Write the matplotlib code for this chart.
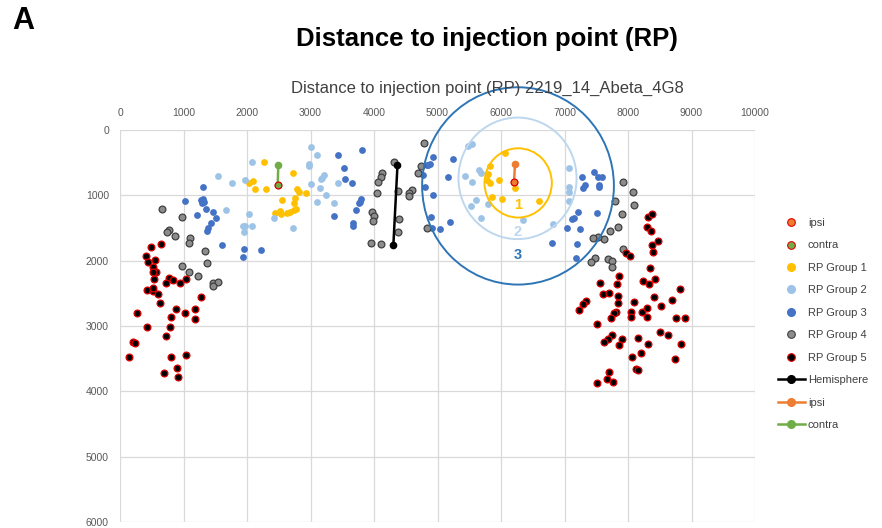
import matplotlib
matplotlib.use("Agg")
import matplotlib.pyplot as plt
from matplotlib.lines import Line2D
from matplotlib.patches import Circle

plt.rcParams['font.family'] = ['Liberation Sans', 'DejaVu Sans']

# positions in µm, y measured downward from the dorsal surface
g1_x = [2262, 2091, 2027, 2123, 2294, 2722, 2786, 2818, 2936, 2556, 2759, 2743, 2775, 2733,
        2679, 2519, 2535, 2439, 2636, 6063, 5827, 5801, 5785, 5969, 5822, 6220, 5853, 6021, 6597]
g1_y = [495, 773, 808, 899, 909, 657, 899, 949, 960, 1076, 1035, 1111, 1202, 1222,
        1252, 1237, 1288, 1278, 1263, 359, 549, 677, 770, 770, 805, 882, 1026, 1062, 1088]

g2_x = [2080, 1540, 1770, 1973, 3000, 3107, 2974, 2974, 3000, 3161, 3188, 3215, 3145, 3428,
        3241, 3107, 3375, 1663, 2027, 1930, 1973, 2080, 1957, 2433, 2722, 5487, 5550, 5655,
        5681, 5435, 5539, 5613, 5524, 5801, 5681, 6351, 7068, 7078, 7068, 7068, 6817]
g2_y = [490, 707, 808, 768, 263, 389, 515, 556, 833, 747, 732, 682, 894, 808,
        1000, 1101, 1111, 1222, 1288, 1465, 1465, 1465, 1566, 1353, 1505, 241, 215, 605,
        657, 708, 795, 1067, 1170, 1129, 1344, 1385, 576, 867, 944, 1086, 1443]

g3_x = [1305, 1018, 1279, 1305, 1315, 1295, 1211, 1357, 1462, 1514, 1436, 1383, 1368, 1603,
        1947, 1931, 2213, 3435, 3811, 3524, 3550, 3654, 3800, 3785, 3758, 3717, 3367, 3664,
        3664, 4934, 4855, 4880, 4829, 4777, 4803, 4934, 4900, 4910, 5035, 5246, 5173, 5194,
        7277, 7470, 7522, 7590, 7548, 7538, 7298, 7329, 7209, 7157, 7115, 7037, 7245, 7512,
        6807, 7193, 7183]
g3_y = [877, 1081, 1071, 1061, 1096, 1112, 1295, 1209, 1260, 1346, 1428, 1504, 1540, 1759,
        1821, 1948, 1836, 382, 306, 576, 755, 816, 1056, 1096, 1122, 1224, 1316, 1418,
        1469, 408, 535, 520, 536, 688, 876, 994, 1330, 1495, 1508, 446, 718, 1411,
        714, 638, 724, 724, 842, 867, 893, 842, 1250, 1341, 1367, 1494, 1520, 1275,
        1734, 1744, 1953]

g4_x = [658, 981, 773, 746, 861, 1107, 1086, 1331, 1368, 981, 1086, 1227, 1472, 1540, 1472,
        4315, 4121, 4105, 4068, 4042, 3963, 4000, 3979, 3953, 4110, 4373, 4394, 4373, 4593,
        4556, 4556, 4735, 4688, 4830, 4787,
        7929, 8081, 8091, 7799, 7903, 7835, 7720, 7616, 7522, 7454, 7914, 7480, 7418, 7679,
        7746, 7746]
g4_y = [1214, 1336, 1530, 1566, 1622, 1658, 1724, 1851, 2030, 2076, 2178, 2234, 2336, 2331, 2387,
        485, 663, 724, 800, 969, 1249, 1315, 1387, 1723, 1748, 928, 1361, 1555, 917,
        959, 1009, 550, 653, 1503, 204,
        801, 944, 1148, 1086, 1290, 1489, 1545, 1668, 1642, 1658, 1826, 1964, 2025, 1974,
        2004, 2091]

g5_x = [496, 653, 407, 444, 548, 522, 574, 512, 532, 773, 835, 720, 940, 1034, 428, 512, 522,
        600, 626, 1279, 261, 809, 887, 1018, 1175, 1185, 783, 418, 720, 198, 230, 146, 809,
        1034, 689, 898, 908,
        8321, 8373, 8295, 8368, 8477, 8383, 8399, 7966, 8028, 8347, 7851, 8425, 8242, 8331,
        7564, 7820, 8817, 7600, 7694, 7846, 8409, 7339, 7287, 7224, 7835, 8096, 8691, 8514,
        7809, 7783, 7731, 8049, 8054, 8216, 8305, 8305, 8749, 8890, 7506, 8498, 8634, 7746,
        7679, 7626, 7898, 7851, 8154, 8315, 8832, 8211, 8065, 8738, 8122, 8164, 7694, 7663,
        7757, 7512]
g5_y = [1785, 1744, 1928, 2015, 1989, 2091, 2168, 2168, 2285, 2270, 2295, 2346, 2336, 2285,
        2448, 2458, 2423, 2514, 2652, 2560, 2795, 2856, 2739, 2795, 2744, 2897, 3009, 3019,
        3152, 3239, 3264, 3468, 3478, 3443, 3723, 3647, 3774,
        1326, 1290, 1489, 1540, 1693, 1760, 1862, 1877, 1928, 2106, 2234, 2285, 2305, 2356,
        2336, 2356, 2433, 2509, 2499, 2540, 2550, 2616, 2667, 2754, 2652, 2627, 2601, 2693,
        2780, 2795, 2871, 2780, 2866, 2780, 2729, 2866, 2882, 2882, 2968, 3096, 3137, 3137,
        3203, 3239, 3198, 3290, 3188, 3279, 3269, 3407, 3468, 3509, 3662, 3672, 3698, 3815,
        3851, 3876]

hemi_x = [4370, 4305]
hemi_y = [530, 1760]
ipsi_x = [6220, 6205]
ipsi_y = [525, 800]
contra_x = [2493, 2483]
contra_y = [535, 841]

# injection point rings: centre x, centre y, radius, label, colour
ring_x = [6270, 6260, 6268]
ring_y = [810, 740, 856]
ring_r = [530, 930, 1510]
ring_lab = ['1', '2', '3']
ring_lab_y = [1147, 1555, 1911]
ring_col = ['#FFC000', '#BDD7EE', '#2E75B6']

fig = plt.figure(figsize=(8.82, 5.28), dpi=100)
ax = fig.add_axes([120 / 882, 1 - 522 / 528, 635 / 882, 392 / 528])
ax.set_xlim(0, 10000)
ax.set_ylim(6000, 0)
ax.xaxis.tick_top()
ax.set_xticks(range(0, 10001, 1000))
ax.set_yticks(range(0, 6001, 1000))
ax.grid(color='#d9d9d9', lw=0.9)
ax.set_axisbelow(True)
ax.tick_params(length=0, labelsize=7.5, colors='#595959')
ax.tick_params(axis='x', pad=9)
ax.tick_params(axis='y', pad=8)
for s in ax.spines.values():
    s.set_visible(False)

ms = 24
ax.scatter(g1_x, g1_y, s=ms, c='#FFC000', lw=0, zorder=3)
ax.scatter(g2_x, g2_y, s=ms, c='#9DC3E6', lw=0, zorder=3)
ax.scatter(g3_x, g3_y, s=ms, c='#4472C4', lw=0, zorder=3)
ax.scatter(g4_x, g4_y, s=ms, c='#8C8C8C', edgecolors='#404040', lw=0.9, zorder=3)
ax.scatter(g5_x, g5_y, s=ms, c='black', edgecolors='#E00000', lw=0.9, zorder=3)

ax.plot(hemi_x, hemi_y, color='black', lw=1.8, marker='o', ms=4.5, zorder=4)
ax.plot(ipsi_x, ipsi_y, color='#ED7D31', lw=1.8, marker='o', ms=4.5, zorder=4)
ax.plot(contra_x, contra_y, color='#70AD47', lw=1.8, marker='o', ms=4.5, zorder=4)

ax.scatter(ipsi_x[-1:], ipsi_y[-1:], s=ms, c='#ED7D31', edgecolors='#E00000', lw=0.9, zorder=5)
ax.scatter(contra_x[-1:], contra_y[-1:], s=ms, c='#70AD47', edgecolors='#E00000', lw=0.9, zorder=5)

for cx, cy, r, lab, ly, col in zip(ring_x, ring_y, ring_r, ring_lab, ring_lab_y, ring_col):
    ax.add_patch(Circle((cx, cy), r, fill=False, ec=col, lw=1.4, clip_on=False, zorder=4))
    ax.text(cx, ly, lab, color=col, fontsize=10.5, fontweight='bold', ha='center', va='center',
            zorder=5)

mk = 5.5
handles = [
    Line2D([], [], ls='none', marker='o', ms=mk, mfc='#ED7D31', mec='#E00000', mew=0.8),
    Line2D([], [], ls='none', marker='o', ms=mk, mfc='#70AD47', mec='#E00000', mew=0.8),
    Line2D([], [], ls='none', marker='o', ms=mk, mfc='#FFC000', mec='#FFC000'),
    Line2D([], [], ls='none', marker='o', ms=mk, mfc='#9DC3E6', mec='#9DC3E6'),
    Line2D([], [], ls='none', marker='o', ms=mk, mfc='#4472C4', mec='#4472C4'),
    Line2D([], [], ls='none', marker='o', ms=mk, mfc='#8C8C8C', mec='#404040', mew=0.8),
    Line2D([], [], ls='none', marker='o', ms=mk, mfc='black', mec='#E00000', mew=0.8),
    Line2D([], [], color='black', lw=1.8, marker='o', ms=mk),
    Line2D([], [], color='#ED7D31', lw=1.8, marker='o', ms=mk),
    Line2D([], [], color='#70AD47', lw=1.8, marker='o', ms=mk),
]
labels = ['ipsi', 'contra', 'RP Group 1', 'RP Group 2', 'RP Group 3', 'RP Group 4',
          'RP Group 5', 'Hemisphere', 'ipsi', 'contra']
leg = fig.legend(handles, labels, loc='upper left', bbox_to_anchor=(778 / 882, 1 - 218 / 528),
                 frameon=False, fontsize=8, handlelength=2.4, handletextpad=0.3,
                 labelspacing=1.12, borderpad=0, borderaxespad=0)
for t in leg.get_texts():
    t.set_color('#404040')

fig.text(487 / 882, 1 - 39 / 528, 'Distance to injection point (RP)', ha='center', va='center',
         fontsize=18.5, fontweight='bold')
fig.text(23 / 882, 1 - 21 / 528, 'A', ha='center', va='center', fontsize=22, fontweight='bold')
fig.text(487 / 882, 1 - 88 / 528, 'Distance to injection point (RP) 2219_14_Abeta_4G8',
         ha='center', va='center', fontsize=12, color='#404040')

fig.savefig('out.png', dpi=100)
